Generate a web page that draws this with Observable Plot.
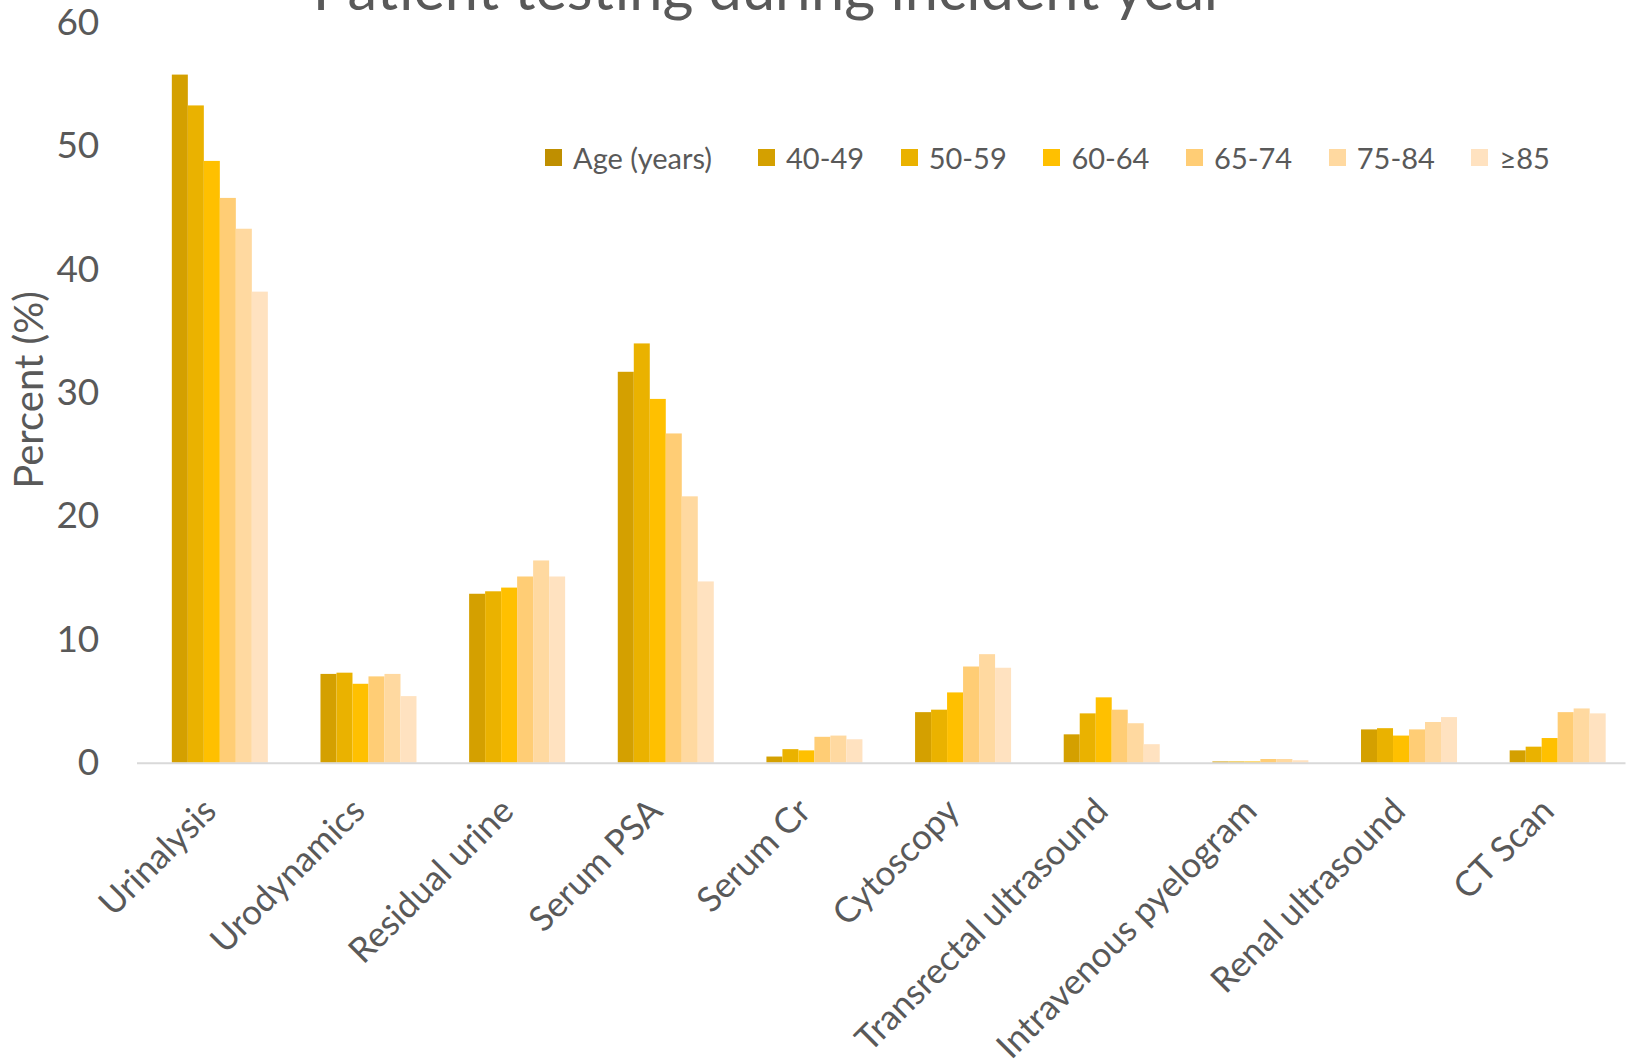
<!DOCTYPE html>
<html>
<head>
<meta charset="utf-8">
<script src="https://cdn.jsdelivr.net/npm/d3@7"></script>
<script src="https://cdn.jsdelivr.net/npm/@observablehq/plot@0.6"></script>
<style>
  html, body { margin: 0; padding: 0; background: #fff; overflow: hidden; }
  #chart { position: relative; width: 1627px; height: 1059px; }
  #legend { position: absolute; left: 545px; top: 140px; height: 34px; display: flex; align-items: center;
            font-family: Lato, sans-serif; font-size: 29px; color: #595959; white-space: nowrap; }
  #legend .item { display: flex; align-items: center; width: 142.7px; }
  #legend .item:first-child { width: 213px; }
  #legend .sw { width: 17px; height: 17px; margin-right: 11px; flex: none; }
</style>
</head>
<body>
<div id="chart"></div>
<script>
const title = "Patient testing during incident year";
const yLabel = "Percent (%)";
const categories = ["Urinalysis", "Urodynamics", "Residual urine", "Serum PSA", "Serum Cr",
  "Cytoscopy", "Transrectal ultrasound", "Intravenous pyelogram", "Renal ultrasound", "CT Scan"];
const seriesNames = ["Age (years)", "40-49", "50-59", "60-64", "65-74", "75-84", "≥85"];
const colors = ["#BF8F00", "#D4A000", "#EAB200", "#FFC000", "#FFCD75", "#FFD9A0", "#FFE2C0"];
const yTicks = [0, 10, 20, 30, 40, 50, 60];

// "Age (years)" series is empty (header row in the source sheet)
const ageYears = [];
const age40_49 = [55.8, 7.2, 13.7, 31.7, 0.5, 4.1, 2.3, 0.1, 2.7, 1.0];
const age50_59 = [53.3, 7.3, 13.9, 34.0, 1.1, 4.3, 4.0, 0.1, 2.8, 1.3];
const age60_64 = [48.8, 6.4, 14.2, 29.5, 1.0, 5.7, 5.3, 0.1, 2.2, 2.0];
const age65_74 = [45.8, 7.0, 15.1, 26.7, 2.1, 7.8, 4.3, 0.3, 2.7, 4.1];
const age75_84 = [43.3, 7.2, 16.4, 21.6, 2.2, 8.8, 3.2, 0.3, 3.3, 4.4];
const age85plus = [38.2, 5.4, 15.1, 14.7, 1.9, 7.7, 1.5, 0.2, 3.7, 4.0];

const seriesValues = [ageYears, age40_49, age50_59, age60_64, age65_74, age75_84, age85plus];
const rows = [];
seriesValues.forEach((vals, s) => vals.forEach((v, i) => rows.push({test: categories[i], age: seriesNames[s], value: v})));

const textColor = "#595959";
const fxPaddingInner = 0.2465;
const fxPaddingOuter = 0.1233;
const plotLeft = 137.5, plotRight = 3, plotWidth = 1627;
const outerGap = fxPaddingOuter * (plotWidth - plotLeft - plotRight) / categories.length;

const plot = Plot.plot({
  width: plotWidth,
  height: 1059,
  marginTop: 22.8,
  marginBottom: 296.3,
  marginLeft: plotLeft,
  marginRight: plotRight,
  style: {fontFamily: "Lato, sans-serif", fontSize: "37px", color: textColor, background: "white"},
  fx: {domain: categories, paddingInner: fxPaddingInner, paddingOuter: fxPaddingOuter, round: false, axis: null, label: null},
  x: {domain: seriesNames, padding: 0, round: false, axis: null},
  y: {domain: [0, 60], ticks: yTicks, tickSize: 0, tickPadding: 57, label: null, tickFormat: d => String(d)},
  color: {domain: seriesNames, range: colors},
  marks: [
    Plot.barY(rows, {fx: "test", x: "age", y: "value", fill: "age"}),
    Plot.frame({facet: "super", anchor: "bottom", stroke: "#D9D9D9", strokeWidth: 2,
      insetLeft: -outerGap, insetRight: -outerGap}),
    Plot.text(categories, {fx: d => d, text: d => d, frameAnchor: "bottom", rotate: -45,
      textAnchor: "end", lineAnchor: "middle", dx: -2, dy: 42, fontSize: 35, fill: textColor}),
    Plot.text([yLabel], {facet: "super", frameAnchor: "left", rotate: -90, dx: -126, dy: 95.5,
      fontSize: 40, fill: textColor}),
    Plot.text([title], {facet: "super", frameAnchor: "top", dx: -112, dy: -56,
      fontSize: 59.5, fill: textColor})
  ]
});

const chart = document.getElementById("chart");
chart.appendChild(plot);

const legend = document.createElement("div");
legend.id = "legend";
seriesNames.forEach((name, i) => {
  const item = document.createElement("div");
  item.className = "item";
  const sw = document.createElement("span");
  sw.className = "sw";
  sw.style.background = colors[i];
  const label = document.createElement("span");
  label.textContent = name;
  item.appendChild(sw);
  item.appendChild(label);
  legend.appendChild(item);
});
chart.appendChild(legend);
</script>
</body>
</html>
